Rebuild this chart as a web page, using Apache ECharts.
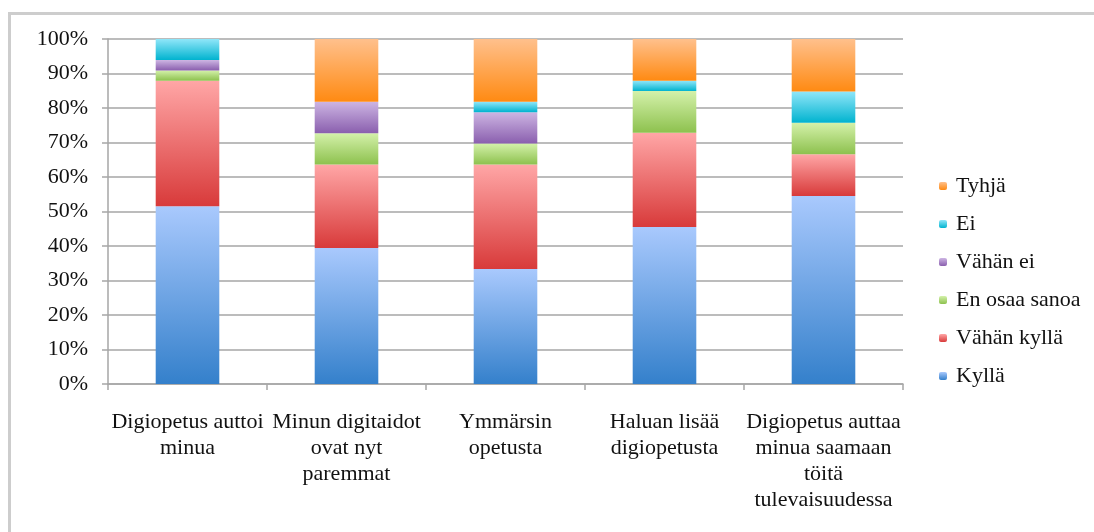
<!DOCTYPE html>
<html>
<head>
<meta charset="utf-8">
<script src="https://cdn.jsdelivr.net/npm/echarts@6/dist/echarts.min.js"></script>
<style>
  html, body { margin: 0; padding: 0; background: #fff; }
  #chart { width: 1094px; height: 532px; }
</style>
</head>
<body>
<div id="chart"></div>
<script>
// kategoriat (rivinvaihdot kuten alkuperäisessä)
const categories = [
  'Digiopetus auttoi\nminua',
  'Minun digitaidot\novat nyt\nparemmat',
  'Ymmärsin\nopetusta',
  'Haluan lisää\ndigiopetusta',
  'Digiopetus auttaa\nminua saamaan\ntöitä\ntulevaisuudessa'
]

// osuudet prosentteina
const kylla = [51.5, 39.4, 33.3, 45.5, 54.5]
const vahanKylla = [36.4, 24.2, 30.3, 27.3, 12.1]
const enOsaa = [3.0, 9.1, 6.1, 12.1, 9.1]
const vahanEi = [3.0, 9.1, 9.1, 0, 0]
const ei = [6.1, 0, 3.0, 3.0, 9.1]
const tyhja = [0, 18.2, 18.2, 12.1, 15.2]

const legendOrder = ['Tyhjä', 'Ei', 'Vähän ei', 'En osaa sanoa', 'Vähän kyllä', 'Kyllä']

const font = "'Liberation Serif', 'Times New Roman', serif"

// liukuvärit: vaalea ylhäällä, tumma alhaalla
const grad = (top, bottom) => ({
  type: 'linear', x: 0, y: 0, x2: 0, y2: 1,
  colorStops: [{ offset: 0, color: top }, { offset: 1, color: bottom }]
})

const seriesDefs = [
  { name: 'Kyllä', data: kylla, color: grad('#a9c9fd', '#3480cb') },
  { name: 'Vähän kyllä', data: vahanKylla, color: grad('#ffa6a6', '#d83a3a') },
  { name: 'En osaa sanoa', data: enOsaa, color: grad('#d4f1aa', '#8dc14e') },
  { name: 'Vähän ei', data: vahanEi, color: grad('#cdb5e3', '#8a5fae') },
  { name: 'Ei', data: ei, color: grad('#90e6f9', '#00b3cf') },
  { name: 'Tyhjä', data: tyhja, color: grad('#ffc08c', '#ff8a12') }
]

const chart = echarts.init(document.getElementById('chart'))

const option = {
  animation: false,
  textStyle: { fontFamily: font },
  graphic: [{
    type: 'rect',
    shape: { x: 9.5, y: 13.5, width: 1110, height: 540 },
    style: { fill: 'none', stroke: '#cdcdcd', lineWidth: 3 },
    silent: true
  }],
  grid: { left: 108, right: 191, top: 39, bottom: 148 },
  legend: {
    orient: 'vertical',
    left: 934,
    top: 170,
    itemWidth: 8,
    itemHeight: 8,
    itemGap: 16,
    data: legendOrder,
    textStyle: { fontFamily: font, fontSize: 22, color: '#111', padding: [0, 0, 0, 4] }
  },
  xAxis: {
    type: 'category',
    data: categories,
    axisLine: { lineStyle: { color: '#a6a6a6', width: 1.5 } },
    axisTick: { show: true, length: 6, lineStyle: { color: '#a6a6a6', width: 1.5 } },
    axisLabel: {
      interval: 0,
      margin: 25,
      fontFamily: font,
      fontSize: 22,
      lineHeight: 26,
      color: '#111',
      align: 'center'
    }
  },
  yAxis: {
    type: 'value',
    min: 0,
    max: 100,
    interval: 10,
    axisLine: { show: true, lineStyle: { color: '#a6a6a6', width: 1.5 } },
    axisTick: { show: true, length: 6, lineStyle: { color: '#a6a6a6', width: 1.5 } },
    splitLine: { lineStyle: { color: '#a6a6a6', width: 1.5 } },
    axisLabel: {
      formatter: '{value}%',
      margin: 20,
      fontFamily: font,
      fontSize: 22,
      color: '#111'
    }
  },
  series: seriesDefs.map(s => ({
    name: s.name,
    type: 'bar',
    stack: 'total',
    barWidth: '40%',
    data: s.data,
    itemStyle: { color: s.color }
  }))
}

chart.setOption(option)
</script>
</body>
</html>
